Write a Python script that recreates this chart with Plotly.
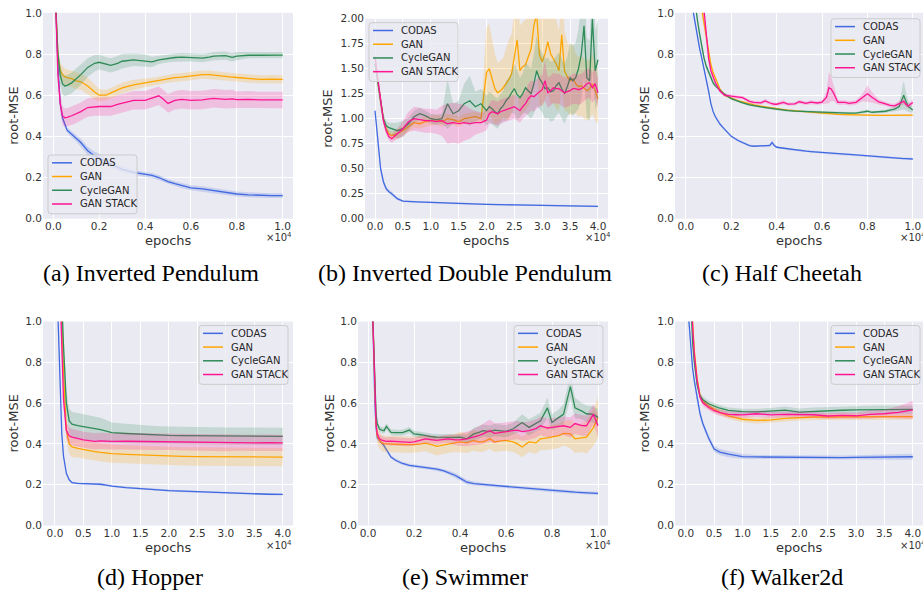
import plotly.graph_objects as go

W, H = 923, 603

NAMES = ["CODAS", "GAN", "CycleGAN", "GAN STACK"]
COLORS = ["#4169E1", "#FFA500", "#2E8B57", "#FF1493"]
FILLS = ["rgba(65,105,225,0.2)", "rgba(255,165,0,0.2)", "rgba(46,139,87,0.2)", "rgba(255,20,147,0.2)"]
CAPTIONS = ["(a) Inverted Pendulum", "(b) Inverted Double Pendulum", "(c) Half Cheetah",
            "(d) Hopper", "(e) Swimmer", "(f) Walker2d"]
X_TITLE = "epochs"
Y_TITLE = "root-MSE"
X_SCALE = "\u00d710<sup>4</sup>"

XT_1 = [0.0, 0.2, 0.4, 0.6, 0.8, 1.0]
XT_4 = [0.0, 0.5, 1.0, 1.5, 2.0, 2.5, 3.0, 3.5, 4.0]
YT_1 = [0.0, 0.2, 0.4, 0.6, 0.8, 1.0]
YT_2 = [0.0, 0.25, 0.5, 0.75, 1.0, 1.25, 1.5, 1.75, 2.0]

# ---------------- (a) Inverted Pendulum ----------------
XA = [0.01, 0.02, 0.03, 0.04, 0.05, 0.06, 0.08, 0.10, 0.12, 0.15,
      0.18, 0.20, 0.23, 0.25, 0.28, 0.30, 0.35, 0.40, 0.43, 0.46,
      0.48, 0.50, 0.53, 0.56, 0.60, 0.65, 0.68, 0.70, 0.75, 0.78,
      0.80, 0.85, 0.90, 0.95, 1.00]
CODAS_A = [1.05, 0.75, 0.56, 0.49, 0.46, 0.43, 0.41, 0.39, 0.37, 0.33,
           0.305, 0.295, 0.275, 0.265, 0.25, 0.24, 0.225, 0.215, 0.21, 0.20,
           0.19, 0.18, 0.17, 0.16, 0.15, 0.145, 0.14, 0.137, 0.13, 0.123,
           0.12, 0.116, 0.113, 0.112, 0.112]
CODAS_A_SD = [0.01, 0.01, 0.01, 0.012, 0.012, 0.012, 0.015, 0.015, 0.018, 0.02,
              0.02, 0.02, 0.02, 0.018, 0.015, 0.015, 0.012, 0.012, 0.012, 0.012,
              0.012, 0.012, 0.012, 0.012, 0.012, 0.012, 0.012, 0.012, 0.012, 0.012,
              0.012, 0.012, 0.012, 0.012, 0.012]
GAN_A = [1.05, 0.80, 0.72, 0.70, 0.69, 0.685, 0.68, 0.67, 0.665, 0.645,
         0.615, 0.60, 0.60, 0.61, 0.625, 0.635, 0.65, 0.66, 0.665, 0.67,
         0.675, 0.68, 0.685, 0.688, 0.693, 0.70, 0.70, 0.697, 0.69, 0.688,
         0.686, 0.68, 0.677, 0.678, 0.677]
GAN_A_SD = [0.02, 0.03, 0.035, 0.04, 0.04, 0.04, 0.04, 0.04, 0.04, 0.04,
            0.035, 0.03, 0.025, 0.025, 0.025, 0.025, 0.025, 0.02, 0.02, 0.02,
            0.02, 0.02, 0.02, 0.02, 0.02, 0.02, 0.02, 0.02, 0.02, 0.02,
            0.02, 0.02, 0.02, 0.02, 0.02]
CYC_A = [1.05, 0.80, 0.70, 0.655, 0.645, 0.648, 0.66, 0.68, 0.70, 0.735,
         0.755, 0.76, 0.75, 0.745, 0.755, 0.765, 0.772, 0.768, 0.762, 0.772,
         0.776, 0.78, 0.783, 0.785, 0.784, 0.78, 0.785, 0.79, 0.792, 0.784,
         0.79, 0.794, 0.794, 0.795, 0.795]
CYC_A_SD = [0.03, 0.04, 0.05, 0.05, 0.05, 0.05, 0.05, 0.05, 0.05, 0.045,
            0.04, 0.035, 0.035, 0.035, 0.035, 0.035, 0.03, 0.03, 0.025, 0.02,
            0.02, 0.02, 0.02, 0.02, 0.02, 0.02, 0.02, 0.02, 0.02, 0.02,
            0.02, 0.015, 0.015, 0.015, 0.015]
STACK_A = [1.05, 0.70, 0.56, 0.50, 0.49, 0.492, 0.50, 0.51, 0.52, 0.54,
           0.545, 0.545, 0.545, 0.545, 0.555, 0.56, 0.575, 0.575, 0.587, 0.597,
           0.58, 0.56, 0.575, 0.58, 0.575, 0.577, 0.582, 0.585, 0.58, 0.582,
           0.578, 0.58, 0.577, 0.578, 0.577]
STACK_A_SD = [0.03, 0.04, 0.045, 0.045, 0.045, 0.045, 0.045, 0.045, 0.045, 0.045,
              0.045, 0.045, 0.045, 0.045, 0.045, 0.045, 0.045, 0.045, 0.045, 0.045,
              0.045, 0.045, 0.045, 0.045, 0.045, 0.045, 0.045, 0.045, 0.045, 0.045,
              0.04, 0.04, 0.04, 0.04, 0.04]

# ---------------- (b) Inverted Double Pendulum ----------------
XB = [0.0, 0.05, 0.1, 0.15, 0.2, 0.25, 0.3, 0.4, 0.5, 0.6,
      0.7, 0.8, 0.9, 1.0, 1.1, 1.2, 1.3, 1.4, 1.5, 1.6,
      1.7, 1.8, 1.9, 2.0, 2.05, 2.1, 2.15, 2.2, 2.25, 2.3,
      2.35, 2.4, 2.45, 2.5, 2.55, 2.6, 2.65, 2.7, 2.75, 2.8,
      2.85, 2.9, 2.95, 3.0, 3.05, 3.1, 3.15, 3.2, 3.25, 3.3,
      3.35, 3.4, 3.45, 3.5, 3.55, 3.6, 3.65, 3.7, 3.75, 3.8,
      3.85, 3.9, 3.95, 4.0]
XB_CODAS = [0.0, 0.05, 0.1, 0.15, 0.2, 0.25, 0.3, 0.4, 0.5, 0.75,
            1.0, 1.5, 2.0, 2.5, 3.0, 3.5, 4.0]
CODAS_B = [1.08, 0.75, 0.50, 0.37, 0.30, 0.27, 0.25, 0.20, 0.175, 0.168,
           0.162, 0.15, 0.143, 0.138, 0.133, 0.128, 0.123]
CODAS_B_SD = [0.02, 0.03, 0.03, 0.03, 0.025, 0.02, 0.02, 0.015, 0.01, 0.008,
              0.008, 0.008, 0.008, 0.008, 0.008, 0.008, 0.008]
GAN_B = [1.55, 1.35, 1.15, 1.0, 0.9, 0.85, 0.83, 0.85, 0.88, 0.92,
         0.96, 0.95, 0.97, 0.98, 0.99, 0.97, 1.0, 0.99, 0.97, 1.0,
         1.01, 1.02, 1.0, 1.46, 1.50, 1.40, 1.30, 1.26, 1.28, 1.31,
         1.35, 1.39, 1.45, 1.60, 1.79, 1.48, 1.52, 1.54, 1.62, 1.70,
         1.93, 2.05, 1.64, 1.57, 1.65, 1.77, 1.65, 1.60, 1.55, 1.48,
         1.84, 1.48, 1.42, 1.38, 1.40, 1.35, 1.32, 1.33, 1.30, 1.28,
         1.30, 1.35, 1.28, 1.20]
GAN_B_SD = [0.05, 0.05, 0.05, 0.04, 0.04, 0.04, 0.04, 0.05, 0.05, 0.05,
            0.05, 0.05, 0.05, 0.05, 0.05, 0.05, 0.05, 0.05, 0.05, 0.05,
            0.05, 0.05, 0.05, 0.45, 0.45, 0.40, 0.35, 0.30, 0.30, 0.30,
            0.35, 0.40, 0.40, 0.45, 0.50, 0.45, 0.45, 0.45, 0.50, 0.50,
            0.50, 0.55, 0.50, 0.45, 0.45, 0.50, 0.50, 0.45, 0.45, 0.40,
            0.50, 0.40, 0.35, 0.35, 0.35, 0.30, 0.30, 0.30, 0.30, 0.30,
            0.30, 0.30, 0.30, 0.25]
CYC_B = [1.55, 1.35, 1.15, 1.0, 0.93, 0.91, 0.90, 0.88, 0.90, 0.95,
         1.02, 1.05, 1.03, 1.0, 0.99, 1.0, 1.15, 1.05, 1.08, 1.15,
         1.18, 1.12, 1.15, 1.08, 1.12, 1.10, 1.07, 1.05, 1.10, 1.13,
         1.18, 1.21, 1.26, 1.30, 1.24, 1.21, 1.25, 1.31, 1.28, 1.25,
         1.35, 1.48, 1.40, 1.36, 1.30, 1.31, 1.27, 1.28, 1.33, 1.36,
         1.30, 1.25, 1.32, 1.41, 1.38, 1.41, 1.50, 1.64, 1.93, 1.41,
         1.38, 2.00, 1.48, 1.59]
CYC_B_SD = [0.05, 0.05, 0.05, 0.05, 0.05, 0.05, 0.06, 0.08, 0.08, 0.06,
            0.06, 0.06, 0.05, 0.05, 0.05, 0.05, 0.25, 0.10, 0.10, 0.20,
            0.25, 0.15, 0.15, 0.15, 0.15, 0.15, 0.15, 0.15, 0.15, 0.15,
            0.20, 0.20, 0.20, 0.25, 0.25, 0.20, 0.20, 0.25, 0.25, 0.25,
            0.30, 0.35, 0.30, 0.30, 0.30, 0.30, 0.30, 0.30, 0.30, 0.30,
            0.30, 0.30, 0.30, 0.35, 0.35, 0.35, 0.40, 0.45, 0.50, 0.40,
            0.40, 0.50, 0.40, 0.40]
STACK_B = [1.62, 1.40, 1.15, 0.98, 0.88, 0.82, 0.80, 0.85, 0.90, 0.97,
           1.0, 0.99, 0.98, 0.98, 0.97, 0.98, 0.95, 0.96, 0.95, 0.96,
           0.95, 0.96, 0.96, 0.985, 1.05, 1.07, 1.06, 1.05, 1.07, 1.08,
           1.09, 1.10, 1.11, 1.12, 1.10, 1.08, 1.12, 1.15, 1.20, 1.23,
           1.22, 1.25, 1.27, 1.29, 1.38, 1.26, 1.28, 1.31, 1.30, 1.30,
           1.28, 1.26, 1.27, 1.28, 1.30, 1.30, 1.29, 1.30, 1.32, 1.35,
           1.36, 1.31, 1.35, 1.26]
STACK_B_SD = [0.05, 0.05, 0.05, 0.04, 0.04, 0.04, 0.04, 0.05, 0.08, 0.10,
              0.12, 0.12, 0.12, 0.12, 0.12, 0.15, 0.20, 0.20, 0.20, 0.18,
              0.15, 0.12, 0.10, 0.10, 0.10, 0.12, 0.12, 0.12, 0.12, 0.12,
              0.12, 0.12, 0.12, 0.12, 0.12, 0.12, 0.12, 0.12, 0.15, 0.15,
              0.15, 0.15, 0.15, 0.15, 0.20, 0.15, 0.15, 0.15, 0.15, 0.15,
              0.15, 0.15, 0.15, 0.15, 0.15, 0.15, 0.15, 0.15, 0.15, 0.15,
              0.15, 0.15, 0.15, 0.15]

# ---------------- (c) Half Cheetah ----------------
XC = [0.03, 0.04, 0.05, 0.06, 0.07, 0.08, 0.09, 0.10, 0.11, 0.12,
      0.13, 0.15, 0.17, 0.20, 0.23, 0.25, 0.28, 0.30, 0.33, 0.35,
      0.37, 0.38, 0.39, 0.40, 0.43, 0.45, 0.48, 0.50, 0.53, 0.55,
      0.58, 0.60, 0.62, 0.63, 0.64, 0.65, 0.67, 0.70, 0.72, 0.75,
      0.78, 0.80, 0.82, 0.85, 0.88, 0.90, 0.92, 0.94, 0.96, 0.97,
      0.98, 1.00]
CODAS_C = [1.02, 0.95, 0.88, 0.83, 0.78, 0.73, 0.67, 0.62, 0.56, 0.52,
           0.495, 0.46, 0.435, 0.40, 0.38, 0.37, 0.355, 0.352, 0.353, 0.352,
           0.356, 0.37, 0.355, 0.347, 0.342, 0.338, 0.334, 0.332, 0.328, 0.326,
           0.323, 0.321, 0.319, 0.318, 0.317, 0.316, 0.315, 0.313, 0.312, 0.31,
           0.307, 0.305, 0.303, 0.30, 0.298, 0.297, 0.295, 0.294, 0.292, 0.292,
           0.291, 0.29]
CODAS_C_SD = [0.01, 0.01, 0.01, 0.01, 0.01, 0.01, 0.01, 0.01, 0.008, 0.008,
              0.008, 0.006, 0.006, 0.006, 0.006, 0.006, 0.005, 0.005, 0.005, 0.005,
              0.008, 0.012, 0.008, 0.005, 0.005, 0.005, 0.005, 0.005, 0.005, 0.005,
              0.005, 0.005, 0.005, 0.005, 0.005, 0.005, 0.005, 0.005, 0.005, 0.005,
              0.005, 0.005, 0.005, 0.005, 0.005, 0.005, 0.005, 0.005, 0.005, 0.005,
              0.005, 0.005]
GAN_C = [1.30, 1.25, 1.15, 1.08, 1.02, 0.95, 0.88, 0.80, 0.75, 0.71,
         0.68, 0.63, 0.60, 0.585, 0.572, 0.567, 0.558, 0.553, 0.547, 0.543,
         0.54, 0.538, 0.536, 0.534, 0.53, 0.527, 0.524, 0.521, 0.518, 0.516,
         0.513, 0.511, 0.51, 0.509, 0.508, 0.508, 0.507, 0.506, 0.505, 0.504,
         0.503, 0.503, 0.502, 0.502, 0.502, 0.502, 0.503, 0.503, 0.503, 0.503,
         0.503, 0.503]
GAN_C_SD = [0.03, 0.03, 0.03, 0.03, 0.03, 0.03, 0.025, 0.02, 0.015, 0.012,
            0.01, 0.008, 0.006, 0.005, 0.005, 0.005, 0.005, 0.005, 0.005, 0.005,
            0.005, 0.005, 0.005, 0.005, 0.005, 0.005, 0.005, 0.005, 0.005, 0.005,
            0.005, 0.005, 0.005, 0.005, 0.005, 0.005, 0.005, 0.005, 0.005, 0.005,
            0.005, 0.005, 0.005, 0.005, 0.005, 0.005, 0.005, 0.005, 0.005, 0.005,
            0.005, 0.005]
CYC_C = [1.15, 1.05, 0.97, 0.90, 0.83, 0.78, 0.74, 0.715, 0.685, 0.66,
         0.645, 0.623, 0.605, 0.583, 0.57, 0.563, 0.553, 0.548, 0.543, 0.54,
         0.537, 0.535, 0.533, 0.53, 0.527, 0.525, 0.523, 0.522, 0.52, 0.518,
         0.517, 0.516, 0.515, 0.515, 0.514, 0.514, 0.515, 0.513, 0.513, 0.513,
         0.518, 0.522, 0.517, 0.518, 0.522, 0.528, 0.532, 0.545, 0.60, 0.57,
         0.545, 0.528]
CYC_C_SD = [0.02, 0.02, 0.02, 0.02, 0.02, 0.015, 0.015, 0.012, 0.01, 0.01,
            0.008, 0.006, 0.006, 0.005, 0.005, 0.005, 0.005, 0.005, 0.005, 0.005,
            0.005, 0.005, 0.005, 0.005, 0.005, 0.005, 0.005, 0.005, 0.005, 0.005,
            0.005, 0.005, 0.005, 0.005, 0.005, 0.005, 0.005, 0.005, 0.005, 0.005,
            0.006, 0.008, 0.006, 0.006, 0.008, 0.01, 0.012, 0.02, 0.07, 0.045,
            0.025, 0.015]
STACK_C = [1.40, 1.35, 1.28, 1.20, 1.12, 1.02, 0.90, 0.78, 0.72, 0.69,
           0.66, 0.62, 0.60, 0.595, 0.59, 0.588, 0.57, 0.565, 0.563, 0.572,
           0.562, 0.558, 0.556, 0.556, 0.565, 0.557, 0.558, 0.568, 0.56, 0.566,
           0.562, 0.566, 0.59, 0.636, 0.63, 0.612, 0.565, 0.565, 0.56, 0.565,
           0.59, 0.607, 0.59, 0.567, 0.558, 0.55, 0.548, 0.56, 0.57, 0.555,
           0.548, 0.565]
STACK_C_SD = [0.03, 0.03, 0.03, 0.03, 0.03, 0.03, 0.025, 0.02, 0.015, 0.012,
              0.01, 0.008, 0.008, 0.008, 0.008, 0.008, 0.008, 0.008, 0.008, 0.01,
              0.008, 0.008, 0.008, 0.008, 0.01, 0.008, 0.008, 0.01, 0.008, 0.01,
              0.008, 0.01, 0.03, 0.075, 0.06, 0.04, 0.012, 0.01, 0.01, 0.01,
              0.02, 0.04, 0.025, 0.012, 0.01, 0.01, 0.01, 0.012, 0.015, 0.012,
              0.012, 0.015]

# ---------------- (d) Hopper ----------------
XD = [0.05, 0.08, 0.10, 0.12, 0.15, 0.20, 0.25, 0.30, 0.40, 0.50,
      0.60, 0.70, 0.80, 0.90, 1.00, 1.25, 1.50, 1.75, 2.00, 2.25,
      2.50, 2.75, 3.00, 3.25, 3.50, 3.75, 4.00]
CODAS_D = [1.05, 0.78, 0.58, 0.45, 0.34, 0.256, 0.224, 0.21, 0.206, 0.205,
           0.205, 0.205, 0.202, 0.198, 0.193, 0.186, 0.18, 0.175, 0.171, 0.168,
           0.165, 0.162, 0.159, 0.157, 0.155, 0.153, 0.152]
CODAS_D_SD = [0.01, 0.01, 0.01, 0.01, 0.008, 0.006, 0.005, 0.005, 0.005, 0.005,
              0.005, 0.005, 0.005, 0.005, 0.005, 0.005, 0.005, 0.005, 0.005, 0.005,
              0.005, 0.005, 0.005, 0.005, 0.005, 0.005, 0.005]
GAN_D = [1.60, 1.30, 1.15, 1.00, 0.75, 0.47, 0.40, 0.385, 0.378, 0.372,
         0.367, 0.362, 0.358, 0.355, 0.352, 0.349, 0.346, 0.343, 0.341, 0.339,
         0.338, 0.337, 0.336, 0.336, 0.335, 0.335, 0.335]
GAN_D_SD = [0.05, 0.05, 0.05, 0.05, 0.05, 0.05, 0.05, 0.05, 0.045, 0.045,
            0.045, 0.045, 0.045, 0.045, 0.045, 0.045, 0.045, 0.045, 0.045, 0.045,
            0.045, 0.045, 0.045, 0.045, 0.045, 0.045, 0.045]
CYC_D = [1.70, 1.40, 1.25, 1.10, 0.88, 0.60, 0.513, 0.497, 0.49, 0.484,
         0.479, 0.475, 0.47, 0.462, 0.455, 0.451, 0.447, 0.444, 0.442, 0.441,
         0.44, 0.44, 0.439, 0.438, 0.437, 0.437, 0.437]
CYC_D_SD = [0.06, 0.06, 0.06, 0.06, 0.06, 0.06, 0.06, 0.06, 0.062, 0.062,
            0.062, 0.06, 0.058, 0.055, 0.05, 0.048, 0.045, 0.044, 0.043, 0.042,
            0.042, 0.042, 0.042, 0.042, 0.042, 0.042, 0.042]
STACK_D = [1.50, 1.20, 1.02, 0.85, 0.62, 0.465, 0.44, 0.433, 0.426, 0.42,
           0.416, 0.412, 0.415, 0.413, 0.412, 0.413, 0.412, 0.41, 0.41, 0.41,
           0.409, 0.406, 0.404, 0.406, 0.405, 0.406, 0.405]
STACK_D_SD = [0.04, 0.04, 0.04, 0.04, 0.04, 0.04, 0.04, 0.04, 0.04, 0.04,
              0.04, 0.04, 0.04, 0.04, 0.04, 0.04, 0.04, 0.04, 0.04, 0.04,
              0.04, 0.04, 0.04, 0.04, 0.04, 0.04, 0.04]

# ---------------- (e) Swimmer ----------------
XE = [0.02, 0.025, 0.03, 0.035, 0.04, 0.05, 0.06, 0.07, 0.08, 0.10,
      0.12, 0.15, 0.18, 0.20, 0.23, 0.25, 0.28, 0.30, 0.33, 0.35,
      0.38, 0.40, 0.43, 0.46, 0.48, 0.50, 0.53, 0.55, 0.58, 0.60,
      0.63, 0.65, 0.67, 0.70, 0.73, 0.75, 0.78, 0.80, 0.83, 0.85,
      0.88, 0.90, 0.93, 0.95, 0.98, 1.00]
CODAS_E = [1.05, 0.80, 0.60, 0.48, 0.43, 0.415, 0.405, 0.39, 0.37, 0.335,
           0.32, 0.304, 0.295, 0.292, 0.287, 0.284, 0.279, 0.276, 0.268, 0.26,
           0.245, 0.232, 0.212, 0.205, 0.203, 0.20, 0.197, 0.195, 0.192, 0.19,
           0.187, 0.185, 0.183, 0.181, 0.178, 0.176, 0.173, 0.171, 0.168, 0.166,
           0.164, 0.163, 0.161, 0.16, 0.158, 0.157]
CODAS_E_SD = [0.01, 0.01, 0.01, 0.01, 0.01, 0.008, 0.008, 0.008, 0.008, 0.008,
              0.008, 0.008, 0.008, 0.008, 0.008, 0.008, 0.008, 0.008, 0.008, 0.01,
              0.012, 0.012, 0.012, 0.01, 0.008, 0.008, 0.008, 0.008, 0.008, 0.008,
              0.008, 0.008, 0.008, 0.008, 0.008, 0.008, 0.008, 0.008, 0.008, 0.008,
              0.008, 0.008, 0.008, 0.008, 0.008, 0.008]
GAN_E = [1.05, 0.85, 0.65, 0.50, 0.44, 0.417, 0.405, 0.40, 0.40, 0.40,
         0.398, 0.397, 0.396, 0.396, 0.40, 0.404, 0.395, 0.388, 0.395, 0.40,
         0.405, 0.41, 0.405, 0.417, 0.41, 0.41, 0.425, 0.41, 0.415, 0.417,
         0.41, 0.40, 0.385, 0.41, 0.405, 0.425, 0.43, 0.433, 0.44, 0.452,
         0.449, 0.425, 0.43, 0.433, 0.48, 0.53]
GAN_E_SD = [0.03, 0.03, 0.04, 0.04, 0.04, 0.04, 0.04, 0.04, 0.04, 0.04,
            0.04, 0.04, 0.04, 0.04, 0.04, 0.04, 0.045, 0.045, 0.045, 0.045,
            0.045, 0.05, 0.05, 0.05, 0.05, 0.05, 0.05, 0.05, 0.05, 0.05,
            0.05, 0.05, 0.05, 0.05, 0.055, 0.055, 0.06, 0.06, 0.06, 0.06,
            0.07, 0.07, 0.07, 0.08, 0.09, 0.10]
CYC_E = [1.05, 0.85, 0.68, 0.55, 0.50, 0.473, 0.468, 0.465, 0.486, 0.457,
         0.455, 0.455, 0.468, 0.449, 0.445, 0.44, 0.435, 0.433, 0.432, 0.43,
         0.432, 0.433, 0.425, 0.449, 0.455, 0.465, 0.46, 0.468, 0.465, 0.462,
         0.473, 0.49, 0.505, 0.481, 0.50, 0.513, 0.577, 0.505, 0.53, 0.545,
         0.681, 0.577, 0.561, 0.548, 0.545, 0.53]
CYC_E_SD = [0.02, 0.02, 0.02, 0.02, 0.015, 0.015, 0.015, 0.015, 0.015, 0.015,
            0.015, 0.015, 0.015, 0.015, 0.015, 0.015, 0.015, 0.015, 0.015, 0.015,
            0.015, 0.015, 0.02, 0.03, 0.03, 0.03, 0.03, 0.03, 0.03, 0.03,
            0.03, 0.035, 0.04, 0.04, 0.04, 0.04, 0.05, 0.04, 0.04, 0.05,
            0.06, 0.05, 0.04, 0.04, 0.04, 0.04]
STACK_E = [1.05, 0.82, 0.62, 0.50, 0.45, 0.425, 0.418, 0.415, 0.412, 0.414,
           0.412, 0.41, 0.408, 0.41, 0.418, 0.425, 0.42, 0.417, 0.422, 0.425,
           0.42, 0.42, 0.425, 0.433, 0.44, 0.449, 0.465, 0.452, 0.458, 0.462,
           0.465, 0.468, 0.46, 0.465, 0.475, 0.489, 0.478, 0.481, 0.485, 0.489,
           0.481, 0.50, 0.49, 0.489, 0.545, 0.489]
STACK_E_SD = [0.02, 0.02, 0.02, 0.02, 0.02, 0.02, 0.02, 0.02, 0.02, 0.02,
              0.02, 0.02, 0.02, 0.02, 0.02, 0.02, 0.02, 0.02, 0.02, 0.02,
              0.025, 0.03, 0.035, 0.04, 0.045, 0.05, 0.055, 0.05, 0.045, 0.045,
              0.045, 0.045, 0.045, 0.045, 0.045, 0.045, 0.045, 0.045, 0.045, 0.045,
              0.05, 0.05, 0.05, 0.05, 0.05, 0.05]

# ---------------- (f) Walker2d ----------------
XF = [0.05, 0.08, 0.10, 0.12, 0.15, 0.20, 0.25, 0.30, 0.40, 0.50,
      0.60, 0.75, 0.90, 1.00, 1.25, 1.50, 1.75, 2.00, 2.25, 2.50,
      2.75, 3.00, 3.25, 3.50, 3.75, 4.00]
CODAS_F = [1.02, 0.90, 0.83, 0.77, 0.71, 0.62, 0.55, 0.50, 0.43, 0.375,
           0.36, 0.35, 0.342, 0.338, 0.336, 0.335, 0.334, 0.333, 0.333, 0.333,
           0.333, 0.334, 0.334, 0.334, 0.335, 0.337]
CODAS_F_SD = [0.02, 0.02, 0.02, 0.02, 0.02, 0.02, 0.02, 0.015, 0.015, 0.015,
              0.015, 0.015, 0.012, 0.012, 0.01, 0.01, 0.01, 0.01, 0.01, 0.01,
              0.01, 0.01, 0.012, 0.012, 0.012, 0.015]
GAN_F = [1.50, 1.25, 1.10, 1.00, 0.86, 0.72, 0.64, 0.61, 0.585, 0.569,
         0.555, 0.537, 0.526, 0.521, 0.515, 0.518, 0.525, 0.53, 0.532, 0.532,
         0.533, 0.534, 0.534, 0.534, 0.534, 0.534]
GAN_F_SD = [0.02, 0.02, 0.02, 0.02, 0.02, 0.015, 0.015, 0.015, 0.015, 0.015,
            0.015, 0.015, 0.015, 0.015, 0.015, 0.015, 0.015, 0.015, 0.015, 0.015,
            0.015, 0.015, 0.015, 0.015, 0.015, 0.015]
CYC_F = [1.40, 1.15, 1.00, 0.90, 0.80, 0.69, 0.635, 0.617, 0.597, 0.585,
         0.575, 0.564, 0.56, 0.558, 0.557, 0.561, 0.566, 0.556, 0.56, 0.563,
         0.565, 0.567, 0.567, 0.568, 0.569, 0.569]
CYC_F_SD = [0.02, 0.02, 0.02, 0.02, 0.015, 0.015, 0.015, 0.015, 0.015, 0.015,
            0.015, 0.015, 0.015, 0.015, 0.015, 0.015, 0.018, 0.018, 0.018, 0.018,
            0.018, 0.02, 0.02, 0.02, 0.02, 0.02]
STACK_F = [1.50, 1.25, 1.10, 0.98, 0.84, 0.71, 0.63, 0.602, 0.58, 0.563,
           0.553, 0.545, 0.543, 0.542, 0.548, 0.542, 0.545, 0.545, 0.543, 0.537,
           0.54, 0.538, 0.545, 0.548, 0.555, 0.567]
STACK_F_SD = [0.02, 0.02, 0.02, 0.02, 0.015, 0.015, 0.015, 0.015, 0.015, 0.015,
              0.015, 0.015, 0.015, 0.015, 0.015, 0.015, 0.015, 0.015, 0.015, 0.015,
              0.015, 0.015, 0.02, 0.02, 0.03, 0.045]

PANEL_DATA = [
    [(XA, CODAS_A, CODAS_A_SD), (XA, GAN_A, GAN_A_SD), (XA, CYC_A, CYC_A_SD), (XA, STACK_A, STACK_A_SD)],
    [(XB_CODAS, CODAS_B, CODAS_B_SD), (XB, GAN_B, GAN_B_SD), (XB, CYC_B, CYC_B_SD), (XB, STACK_B, STACK_B_SD)],
    [(XC, CODAS_C, CODAS_C_SD), (XC, GAN_C, GAN_C_SD), (XC, CYC_C, CYC_C_SD), (XC, STACK_C, STACK_C_SD)],
    [(XD, CODAS_D, CODAS_D_SD), (XD, GAN_D, GAN_D_SD), (XD, CYC_D, CYC_D_SD), (XD, STACK_D, STACK_D_SD)],
    [(XE, CODAS_E, CODAS_E_SD), (XE, GAN_E, GAN_E_SD), (XE, CYC_E, CYC_E_SD), (XE, STACK_E, STACK_E_SD)],
    [(XF, CODAS_F, CODAS_F_SD), (XF, GAN_F, GAN_F_SD), (XF, CYC_F, CYC_F_SD), (XF, STACK_F, STACK_F_SD)],
]

# ---------------- layout (pixel geometry) ----------------
SPEC = [
    dict(box=(43, 293, 7, 217), xr=[-0.045, 1.045], yr=[0, 1], xt=XT_1, yt=YT_1, xf="{:.1f}", yf="{:.1f}",
         ylab=14, leg=(48, 152), xlab_y=239, scale_r=294, cap=(151, 272)),
    dict(box=(365, 608, 13, 217), xr=[-0.18, 4.18], yr=[0, 2], xt=XT_4, yt=YT_2, xf="{:.1f}", yf="{:.2f}",
         ylab=328, leg=(369, 17), xlab_y=239, scale_r=613, cap=(465, 272)),
    dict(box=(675, 923, 7, 217), xr=[-0.048, 1.045], yr=[0, 1], xt=XT_1, yt=YT_1, xf="{:.1f}", yf="{:.1f}",
         ylab=645, leg=(831, 13), xlab_y=239, scale_r=928, cap=(782, 272)),
    dict(box=(43, 293, 322, 530), xr=[-0.21, 4.18], yr=[0, 1], xt=XT_4, yt=YT_1, xf="{:.1f}", yf="{:.1f}",
         ylab=14, leg=(199, 326), xlab_y=553, scale_r=294, cap=(150, 583)),
    dict(box=(358, 608, 322, 530), xr=[-0.0435, 1.0435], yr=[0, 1], xt=XT_1, yt=YT_1, xf="{:.1f}", yf="{:.1f}",
         ylab=330, leg=(514, 326), xlab_y=553, scale_r=613, cap=(465, 583)),
    dict(box=(675, 923, 322, 530), xr=[-0.19, 4.18], yr=[0, 1], xt=XT_4, yt=YT_1, xf="{:.1f}", yf="{:.1f}",
         ylab=645, leg=(831, 326), xlab_y=553, scale_r=928, cap=(782, 583)),
]


def PX(x):
    return x / W


def PY(y):
    return 1 - y / H


TICK_FONT = dict(family="DejaVu Sans", size=10.5, color="#333333")
LABEL_FONT = dict(family="DejaVu Sans", size=13, color="#333333")

fig = go.Figure()
layout = dict(width=W, height=H, margin=dict(l=0, r=0, t=0, b=0, pad=0), paper_bgcolor="white",
              plot_bgcolor="#EAEAF2", showlegend=False)
shapes = []
annotations = []

for i, (spec, series) in enumerate(zip(SPEC, PANEL_DATA)):
    sfx = "" if i == 0 else str(i + 1)
    xa, ya = "x" + sfx, "y" + sfx
    for k, (xs, m, sd) in enumerate(series):
        up = [a + b for a, b in zip(m, sd)]
        lo = [a - b for a, b in zip(m, sd)]
        fig.add_trace(go.Scatter(x=list(xs) + list(xs)[::-1], y=up + lo[::-1], fill="toself",
                                 fillcolor=FILLS[k], line=dict(width=0), mode="lines",
                                 hoverinfo="skip", xaxis=xa, yaxis=ya, showlegend=False))
        fig.add_trace(go.Scatter(x=xs, y=m, mode="lines", name=NAMES[k],
                                 line=dict(color=COLORS[k], width=1.3),
                                 xaxis=xa, yaxis=ya, showlegend=False))
    L, R, T, B = spec["box"]
    axcommon = dict(showgrid=True, gridcolor="white", gridwidth=1, zeroline=False, showline=False,
                    ticks="", tickfont=TICK_FONT, fixedrange=True)
    layout["xaxis" + sfx] = dict(domain=[PX(L), PX(R)], range=spec["xr"], anchor=ya,
                                 tickvals=spec["xt"], ticktext=[spec["xf"].format(v) for v in spec["xt"]],
                                 **axcommon)
    layout["yaxis" + sfx] = dict(domain=[PY(B), PY(T)], range=spec["yr"], anchor=xa,
                                 tickvals=spec["yt"], ticktext=[spec["yf"].format(v) for v in spec["yt"]],
                                 **axcommon)
    annotations.append(dict(text=X_TITLE, x=PX((L + R) / 2), y=PY(spec["xlab_y"]), xref="paper", yref="paper",
                            showarrow=False, xanchor="center", yanchor="middle", font=LABEL_FONT))
    annotations.append(dict(text=Y_TITLE, x=PX(spec["ylab"]), y=PY((T + B) / 2), xref="paper", yref="paper",
                            showarrow=False, xanchor="center", yanchor="middle", textangle=-90, font=LABEL_FONT))
    annotations.append(dict(text=X_SCALE, x=PX(spec["scale_r"]), y=PY(spec["xlab_y"] - 3), xref="paper",
                            yref="paper", showarrow=False, xanchor="right", yanchor="middle",
                            font=dict(family="DejaVu Sans", size=10, color="#333333")))
    cx, cy = spec["cap"]
    annotations.append(dict(text=CAPTIONS[i], x=PX(cx), y=PY(cy), xref="paper", yref="paper",
                            showarrow=False, xanchor="center", yanchor="middle",
                            font=dict(family="Liberation Serif", size=24, color="black")))
    lx, ly = spec["leg"]
    x0, x1, y0, y1, r = lx, lx + 89, ly, ly + 60, 3
    path = (f"M {PX(x0 + r)},{PY(y0)} L {PX(x1 - r)},{PY(y0)} Q {PX(x1)},{PY(y0)} {PX(x1)},{PY(y0 + r)} "
            f"L {PX(x1)},{PY(y1 - r)} Q {PX(x1)},{PY(y1)} {PX(x1 - r)},{PY(y1)} "
            f"L {PX(x0 + r)},{PY(y1)} Q {PX(x0)},{PY(y1)} {PX(x0)},{PY(y1 - r)} "
            f"L {PX(x0)},{PY(y0 + r)} Q {PX(x0)},{PY(y0)} {PX(x0 + r)},{PY(y0)} Z")
    shapes.append(dict(type="path", path=path, xref="paper", yref="paper",
                       fillcolor="rgba(234,234,242,0.8)", line=dict(color="#CCCCCC", width=1), layer="above"))
    for k in range(4):
        yy = ly + 8 + 14 * k
        shapes.append(dict(type="line", x0=PX(lx + 4), x1=PX(lx + 24), y0=PY(yy), y1=PY(yy),
                           xref="paper", yref="paper", line=dict(color=COLORS[k], width=1.5), layer="above"))
        annotations.append(dict(text=NAMES[k], x=PX(lx + 30), y=PY(yy), xref="paper", yref="paper",
                                showarrow=False, xanchor="left", yanchor="middle",
                                font=dict(family="DejaVu Sans", size=10, color="#262626")))

layout["shapes"] = shapes
layout["annotations"] = annotations
fig.update_layout(**layout)
fig.write_html("out.html", config={"displayModeBar": False, "staticPlot": True},
               post_script="document.body.style.margin='0';document.body.style.overflow='hidden';")
